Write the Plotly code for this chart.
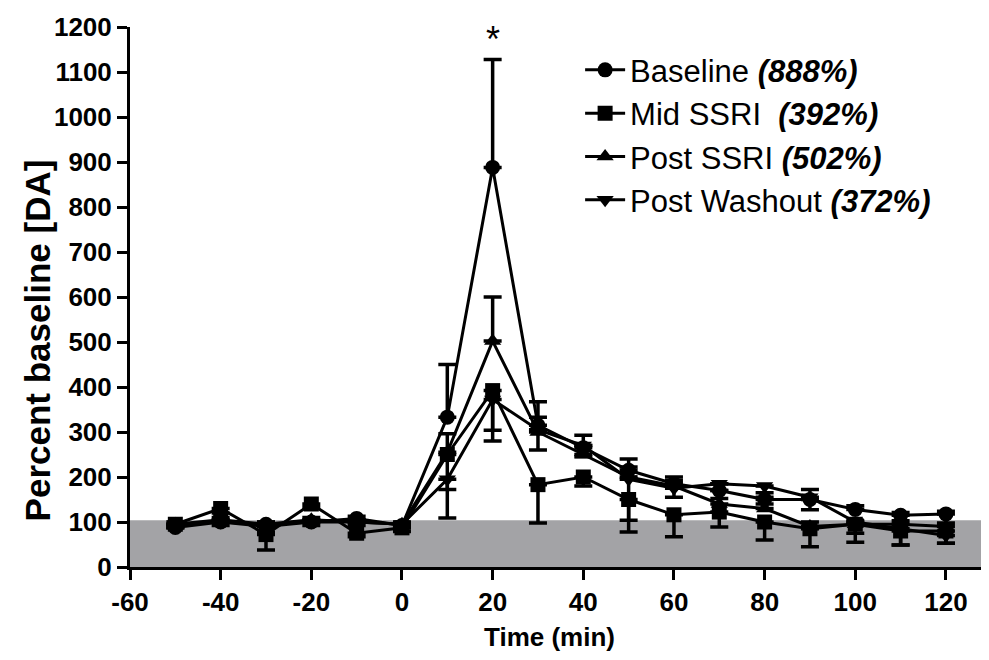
import plotly.graph_objects as go

time_min = [-50, -40, -30, -20, -10, 0, 10, 20, 30, 40, 50, 60, 70, 80, 90, 100, 110, 120]

baseline = [88, 100, 95, 100, 108, 92, 333, 888, 315, 265, 215, 185, 170, 150, 150, 128, 115, 118]
baseline_err_up = [5, 5, 5, 5, 5, 5, 117, 240, 52, 28, 25, 15, 15, 15, 22, 8, 6, 6]

mid_ssri = [95, 130, 72, 140, 75, 87, 250, 392, 183, 200, 150, 116, 122, 100, 85, 95, 80, 80]
mid_ssri_err_down = [8, 10, 34, 8, 8, 8, 78, 112, 85, 20, 72, 49, 33, 40, 40, 40, 31, 27]

post_ssri = [95, 105, 95, 105, 100, 95, 255, 502, 300, 250, 200, 180, 140, 130, 90, 95, 95, 90]
post_ssri_err_up = [5, 5, 5, 5, 5, 5, 41, 98, 33, 20, 22, 12, 12, 10, 10, 8, 8, 8]

post_washout = [95, 100, 90, 100, 100, 95, 195, 372, 305, 270, 195, 175, 185, 180, 155, 100, 85, 70]
post_washout_err_down = [8, 8, 12, 8, 8, 8, 86, 68, 45, 25, 91, 20, 15, 25, 28, 25, 36, 17]

series_names = [
    "Baseline <b><i>(888%)</i></b>",
    "Mid SSRI&nbsp;&nbsp;<b><i>(392%)</i></b>",
    "Post SSRI <b><i>(502%)</i></b>",
    "Post Washout <b><i>(372%)</i></b>",
]
series_values = [baseline, mid_ssri, post_ssri, post_washout]
series_err = [
    (baseline_err_up, [0] * len(time_min)),
    ([0] * len(time_min), mid_ssri_err_down),
    (post_ssri_err_up, [0] * len(time_min)),
    ([0] * len(time_min), post_washout_err_down),
]
symbols = ["circle", "square", "triangle-up", "triangle-down"]
sizes = [15, 15, 15, 15]

gray_band_top = 104
y_ticks = list(range(0, 1201, 100))
x_ticks = list(range(-60, 121, 20))

FONT = "Arial, 'Liberation Sans', sans-serif"

fig = go.Figure()

for i, (name, vals, (eup, edn), sym, sz) in enumerate(zip(series_names, series_values, series_err, symbols, sizes)):
    fig.add_trace(go.Scatter(
        x=time_min, y=vals, name=name, mode="lines+markers",
        legendgroup=f"g{i}",
        line=dict(color="black", width=3),
        marker=dict(symbol=sym, size=sz, color="black"),
        error_y=dict(type="data", symmetric=False, array=eup, arrayminus=edn,
                     color="black", thickness=3.5, width=9),
    ))

fig.add_shape(type="rect", xref="x domain", yref="y", x0=0, x1=1, y0=0, y1=gray_band_top,
              fillcolor="#a3a3a6", line=dict(width=0), layer="below")

fig.add_annotation(x=20, y=1172, text="*", showarrow=False,
                   font=dict(size=36, family=FONT, color="black"))

# axis titles
fig.add_annotation(xref="paper", yref="paper", x=-0.108, y=0.42, textangle=-90,
                   text="<b>Percent baseline [DA]</b>", showarrow=False,
                   xanchor="center", yanchor="middle",
                   font=dict(size=35, family=FONT, color="black"))
fig.add_annotation(xref="paper", yref="paper", x=0.488, y=-0.13,
                   text="<b>Time (min)</b>", showarrow=False,
                   xanchor="center", yanchor="middle",
                   font=dict(size=26, family=FONT, color="black"))

fig.update_layout(
    width=989, height=660,
    margin=dict(l=122, r=8, t=19, b=101, autoexpand=False),
    paper_bgcolor="white", plot_bgcolor="white",
    font=dict(family=FONT, color="black"),
    showlegend=True,
    legend=dict(x=0.524, y=0.97, xanchor="left", yanchor="top",
                font=dict(size=31, family=FONT, color="black"),
                bgcolor="rgba(0,0,0,0)", tracegroupgap=0, itemwidth=40),
)

fig.update_xaxes(
    range=[-60, 129.5], tickvals=x_ticks, ticktext=[str(v) for v in x_ticks],
    showgrid=False, zeroline=False, automargin=False,
    showline=True, linecolor="black", linewidth=3,
    ticks="outside", ticklen=10, tickwidth=3, tickcolor="black",
    tickfont=dict(size=26, family=FONT, weight="bold"),
)
fig.update_yaxes(
    range=[0, 1200], tickvals=y_ticks, ticktext=[str(v) for v in y_ticks],
    showgrid=False, zeroline=False, automargin=False,
    showline=True, linecolor="black", linewidth=3,
    ticks="outside", ticklen=10, tickwidth=3, tickcolor="black",
    tickfont=dict(size=26, family=FONT, weight="bold"),
)

fig.write_html("out.html")
